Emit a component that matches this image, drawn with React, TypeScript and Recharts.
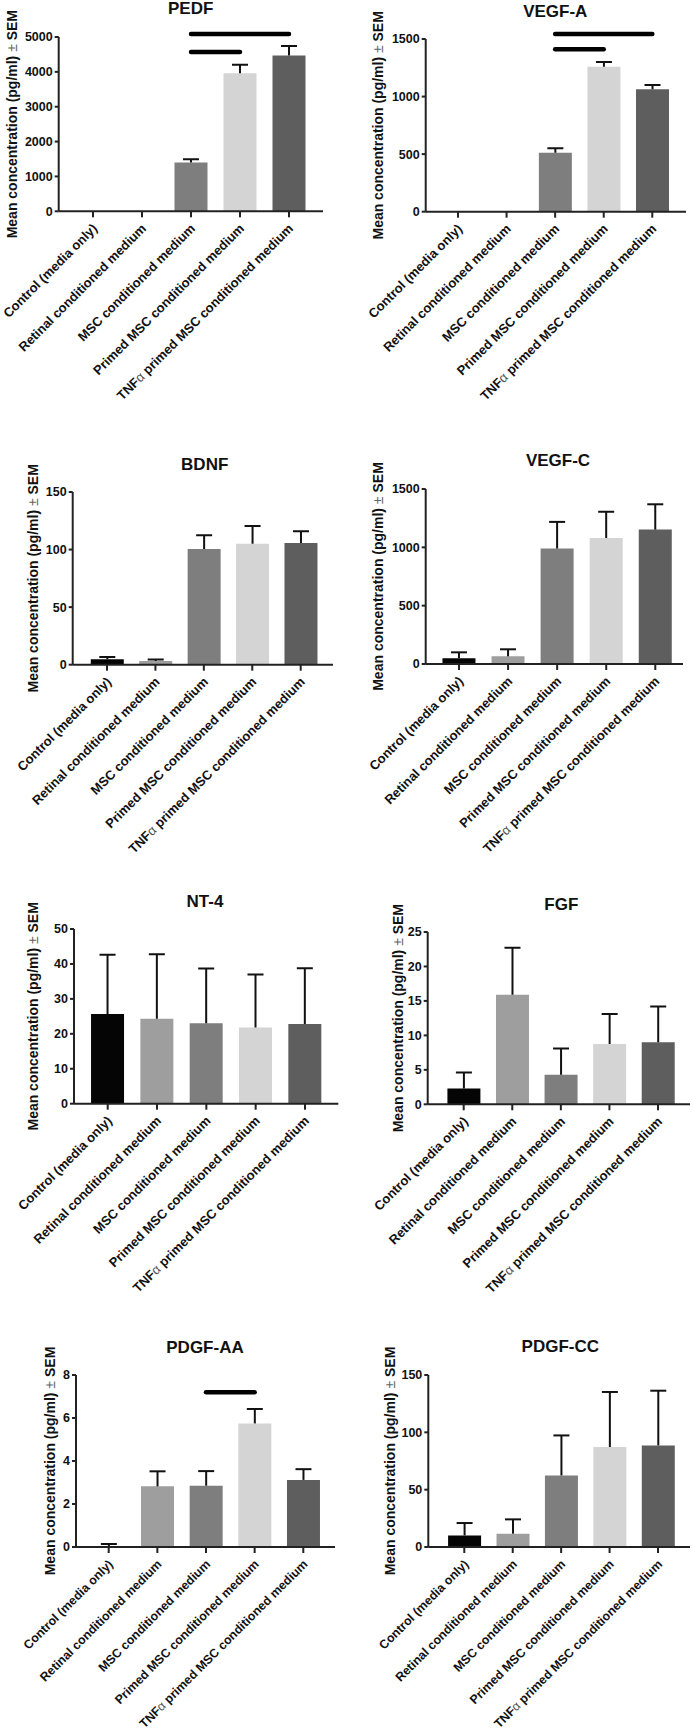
import React from "react";
import { Bar, BarChart, Cell, ReferenceLine, XAxis, YAxis } from "recharts";

const FONT = '"Liberation Sans", Arial, Helvetica, sans-serif';

const categories = [
  "Control (media only)",
  "Retinal conditioned medium",
  "MSC conditioned medium",
  "Primed MSC conditioned medium",
  "TNFα primed MSC conditioned medium",
];
const barColors = ["#050505", "#9e9e9e", "#7e7e7e", "#d4d4d4", "#5e5e5e"];

const pedfMean = [0, 0, 1400, 3960, 4470];
const pedfSem = [0, 0, 95, 245, 270];
const pedfTicks = [0, 1000, 2000, 3000, 4000, 5000];
const pedfSig = [
  { from: 2, to: 4, level: 5085 },
  { from: 2, to: 3, level: 4570 },
];

const vegfAMean = [0, 0, 512, 1260, 1063];
const vegfASem = [0, 0, 40, 40, 38];
const vegfATicks = [0, 500, 1000, 1500];
const vegfASig = [
  { from: 2, to: 4, level: 1543 },
  { from: 2, to: 3, level: 1410 },
];

const bdnfMean = [4.8, 3.2, 100.5, 105, 105.8];
const bdnfSem = [1.8, 1.3, 12, 15.5, 10];
const bdnfTicks = [0, 50, 100, 150];

const vegfCMean = [50, 66, 990, 1080, 1152];
const vegfCSem = [50, 60, 228, 225, 217];
const vegfCTicks = [0, 500, 1000, 1500];

const nt4Mean = [25.7, 24.3, 23.0, 21.8, 22.8];
const nt4Sem = [16.9, 18.5, 15.7, 15.2, 16.0];
const nt4Ticks = [0, 10, 20, 30, 40, 50];

const fgfMean = [2.3, 15.9, 4.3, 8.75, 9.0];
const fgfSem = [2.3, 6.8, 3.8, 4.35, 5.2];
const fgfTicks = [0, 5, 10, 15, 20, 25];

const pdgfAAMean = [0.04, 2.82, 2.85, 5.75, 3.12];
const pdgfAASem = [0.1, 0.7, 0.68, 0.67, 0.5];
const pdgfAATicks = [0, 2, 4, 6, 8];
const pdgfAASig = [{ from: 2, to: 3, level: 7.2 }];

const pdgfCCMean = [10.1, 11.6, 62.4, 87.2, 88.6];
const pdgfCCSem = [10.8, 12.5, 34.9, 48, 47.7];
const pdgfCCTicks = [0, 50, 100, 150];

type Sig = { from: number; to: number; level: number };

type Layout = {
  left: number;
  axisX: number;
  yTop: number;
  yZero: number;
  xEnd: number;
  firstTick: number;
  lastTick: number;
  titleX: number;
  titleBase: number;
  labelX: number;
  catFont?: number;
};

function CategoryTick(props: any) {
  const { x, y, payload, fontSize = 13 } = props;
  const tx = x + 5;
  const ty = y + 10;
  const label = String(payload.value);
  const parts = label.split("α");
  return (
    <text
      x={tx}
      y={ty}
      transform={`rotate(-45 ${tx} ${ty})`}
      textAnchor="end"
      fontSize={fontSize}
      fontWeight="bold"
      fill="#111"
      fontFamily={FONT}
    >
      {parts.length > 1 ? (
        <>
          {parts[0]}
          <tspan fontWeight="normal" fill="#555">α</tspan>
          {parts[1]}
        </>
      ) : (
        label
      )}
    </text>
  );
}

// upward-only SEM whisker, drawn as the stacked segment above the mean
function SemWhisker(props: any) {
  const { x, y, width, height } = props;
  if (!height || height < 0.5) return <g />;
  const cx = x + width / 2;
  return (
    <g>
      <line x1={cx} x2={cx} y1={y + height} y2={y} stroke="#111" strokeWidth={2} />
      <line x1={cx - 8} x2={cx + 8} y1={y} y2={y} stroke="#111" strokeWidth={2} />
    </g>
  );
}

function Panel({
  title,
  means,
  sems,
  ticks,
  sig = [],
  layout,
}: {
  title: string;
  means: number[];
  sems: number[];
  ticks: number[];
  sig?: Sig[];
  layout: Layout;
}) {
  const data = categories.map((name, i) => ({ name, mean: means[i], sem: sems[i] }));
  const top = layout.yTop - 40;
  const xAxisH = 200;
  const height = layout.yZero - top + xAxisH;
  const width = layout.xEnd - layout.left + 3;
  const step = (layout.lastTick - layout.firstTick) / 4;
  const padL = layout.firstTick - layout.axisX - step / 2;
  const padR = layout.xEnd - layout.lastTick - step / 2;
  const labelX = layout.labelX - layout.left + 5;
  const labelY = (layout.yTop + layout.yZero) / 2 - top;

  const yLabel = () => (
    <text
      x={labelX}
      y={labelY}
      transform={`rotate(-90 ${labelX} ${labelY})`}
      textAnchor="middle"
      fontSize={14}
      fontWeight="bold"
      fill="#111"
      fontFamily={FONT}
    >
      {"Mean concentration (pg/ml) "}
      <tspan fontWeight="normal" fill="#666">±</tspan>
      {" SEM"}
    </text>
  );

  return (
    <>
      <div
        style={{
          position: "absolute",
          left: layout.titleX - 100,
          top: layout.titleBase - 14.4,
          width: 200,
          textAlign: "center",
          fontSize: 17,
          lineHeight: "17px",
          fontWeight: "bold",
          fontFamily: FONT,
          color: "#111",
        }}
      >
        {title}
      </div>
      <div style={{ position: "absolute", left: layout.left, top }}>
        <BarChart
          width={width}
          height={height}
          data={data}
          margin={{ top: 40, right: 3, bottom: 0, left: 0 }}
        >
          <XAxis
            dataKey="name"
            height={xAxisH}
            interval={0}
            padding={{ left: padL, right: padR }}
            tick={<CategoryTick fontSize={layout.catFont ?? 13} />}
            tickSize={6}
            tickLine={{ stroke: "#222", strokeWidth: 2 }}
            axisLine={{ stroke: "#222", strokeWidth: 2 }}
          />
          <YAxis
            width={layout.axisX - layout.left}
            domain={[0, ticks[ticks.length - 1]]}
            ticks={ticks}
            interval={0}
            allowDataOverflow
            tickSize={4}
            tickMargin={2}
            tick={{ fontSize: 12.5, fontWeight: "bold", fill: "#111", fontFamily: FONT }}
            tickLine={{ stroke: "#222", strokeWidth: 2 }}
            axisLine={{ stroke: "#222", strokeWidth: 2 }}
            label={{ content: yLabel }}
          />
          <Bar dataKey="mean" stackId="s" barSize={33} isAnimationActive={false}>
            {data.map((_, i) => (
              <Cell key={i} fill={barColors[i]} />
            ))}
          </Bar>
          <Bar dataKey="sem" stackId="s" barSize={33} isAnimationActive={false} shape={<SemWhisker />} />
          {sig.map((s, i) => (
            <ReferenceLine
              key={i}
              segment={[
                { x: categories[s.from], y: s.level },
                { x: categories[s.to], y: s.level },
              ]}
              ifOverflow="visible"
              stroke="#000"
              strokeWidth={4.5}
              strokeLinecap="round"
            />
          ))}
        </BarChart>
      </div>
    </>
  );
}

export default function App() {
  return (
    <div
      style={{
        position: "absolute",
        left: 0,
        top: 0,
        width: 693,
        height: 1736,
        background: "#fff",
        overflow: "hidden",
      }}
    >
      <Panel
        title="PEDF"
        means={pedfMean}
        sems={pedfSem}
        ticks={pedfTicks}
        sig={pedfSig}
        layout={{ left: 0, axisX: 58.7, yTop: 36.7, yZero: 211, xEnd: 323, firstTick: 93, lastTick: 289, titleX: 190.7, titleBase: 14, labelX: 12 }}
      />
      <Panel
        title="VEGF-A"
        means={vegfAMean}
        sems={vegfASem}
        ticks={vegfATicks}
        sig={vegfASig}
        layout={{ left: 343, axisX: 425.7, yTop: 39, yZero: 211.7, xEnd: 686, firstTick: 458, lastTick: 652.3, titleX: 555.3, titleBase: 17.3, labelX: 378 }}
      />
      <Panel
        title="BDNF"
        means={bdnfMean}
        sems={bdnfSem}
        ticks={bdnfTicks}
        layout={{ left: 0, axisX: 72.7, yTop: 492.3, yZero: 665, xEnd: 333, firstTick: 107, lastTick: 300.7, titleX: 204.7, titleBase: 470, labelX: 33.3 }}
      />
      <Panel
        title="VEGF-C"
        means={vegfCMean}
        sems={vegfCSem}
        ticks={vegfCTicks}
        layout={{ left: 343, axisX: 425.7, yTop: 489, yZero: 664, xEnd: 683, firstTick: 459, lastTick: 655.3, titleX: 558, titleBase: 466, labelX: 378 }}
      />
      <Panel
        title="NT-4"
        means={nt4Mean}
        sems={nt4Sem}
        ticks={nt4Ticks}
        layout={{ left: 0, axisX: 74, yTop: 929.3, yZero: 1104, xEnd: 338.3, firstTick: 107.7, lastTick: 305, titleX: 205, titleBase: 907, labelX: 33 }}
      />
      <Panel
        title="FGF"
        means={fgfMean}
        sems={fgfSem}
        ticks={fgfTicks}
        layout={{ left: 343, axisX: 427.7, yTop: 932, yZero: 1104.3, xEnd: 690, firstTick: 463.7, lastTick: 658, titleX: 561.3, titleBase: 910, labelX: 398 }}
      />
      <Panel
        title="PDGF-AA"
        means={pdgfAAMean}
        sems={pdgfAASem}
        ticks={pdgfAATicks}
        sig={pdgfAASig}
        layout={{ left: 0, axisX: 76, yTop: 1375.3, yZero: 1547.3, xEnd: 335, firstTick: 108.7, lastTick: 303.3, titleX: 205, titleBase: 1353, labelX: 50, catFont: 12.4 }}
      />
      <Panel
        title="PDGF-CC"
        means={pdgfCCMean}
        sems={pdgfCCSem}
        ticks={pdgfCCTicks}
        layout={{ left: 343, axisX: 428.3, yTop: 1375.3, yZero: 1547.3, xEnd: 690, firstTick: 464.3, lastTick: 658, titleX: 560.3, titleBase: 1352.5, labelX: 389.7, catFont: 12.4 }}
      />
    </div>
  );
}
